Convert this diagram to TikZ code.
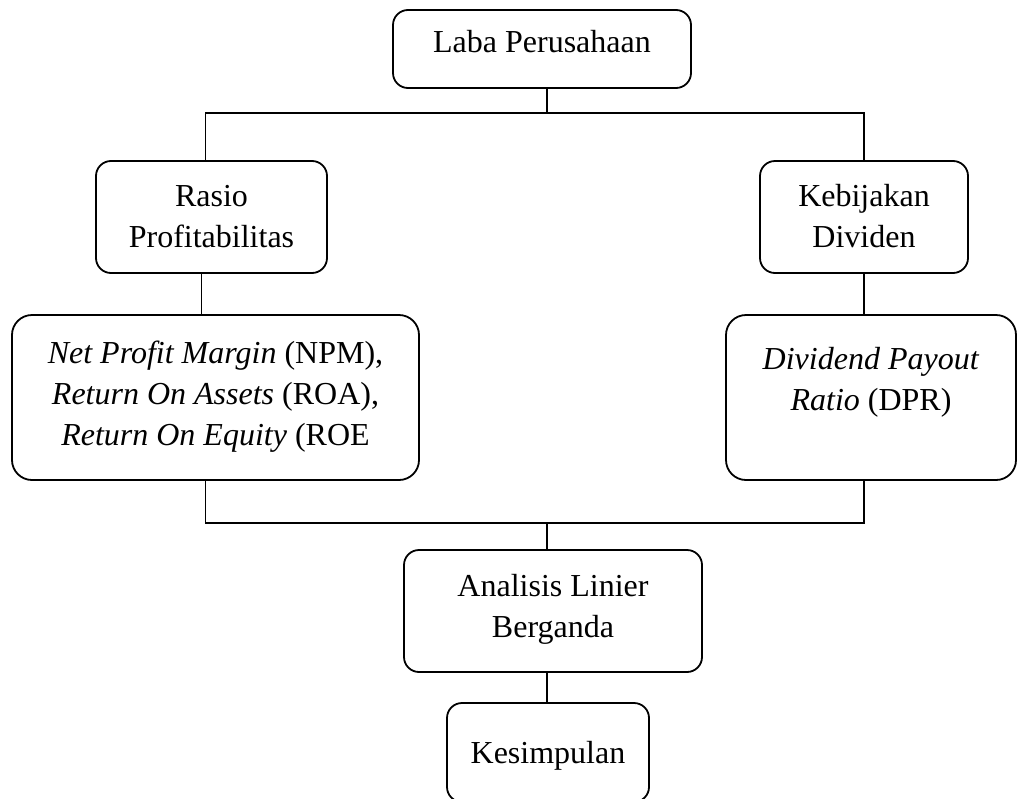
\documentclass[tikz,border=0pt]{standalone}
\usepackage{fontspec}
\setmainfont{Liberation Serif}
\begin{document}
\begin{tikzpicture}[x=1pt,y=-1pt,
  box/.style={draw, line width=1.8pt, rounded corners=15pt, align=center, inner sep=0pt,
    font={\fontsize{32}{41}\selectfont}, text depth=0pt},
  link/.style={line width=1.8pt}]
\useasboundingbox (0,0) rectangle (1017,798);
\clip (0,0) rectangle (1017,798);
\node [box, minimum width=298pt, minimum height=78pt, text height=6pt] (laba) at (542,49) {Laba Perusahaan};
\node [box, minimum width=231pt, minimum height=112pt, text height=60pt] (rasio) at (211.5,217) {Rasio\\Profitabilitas};
\node [box, minimum width=208pt, minimum height=112pt, text height=60pt] (kebijakan) at (864,217) {Kebijakan\\Dividen};
\node [box, rounded corners=20pt, minimum width=407pt, minimum height=165pt, text height=95pt] (npm) at (215.5,397.5) {\textit{Net Profit Margin} (NPM),\\\textit{Return On Assets} (ROA),\\\textit{Return On Equity} (ROE};
\node [box, rounded corners=20pt, minimum width=290pt, minimum height=165pt, text height=25pt] (dpr) at (871,397.5) {\textit{Dividend Payout}\\\textit{Ratio} (DPR)};
\node [box, minimum width=298pt, minimum height=122pt, text height=52pt] (analisis) at (553,611) {Analisis Linier\\Berganda};
\node [box, minimum width=202pt, minimum height=99pt, text height=21pt] (kesimpulan) at (548,752.5) {Kesimpulan};
\coordinate (atas) at (547,113);
\coordinate (bawah) at (547,523);
\draw [link] (laba.south -| atas) -- (atas);
\draw [link] ([xshift=-6pt]rasio.north) |- (atas) -| (kebijakan.north);
\draw [link] ([xshift=-10pt]rasio.south) -- ([xshift=-10pt]rasio.south |- npm.north);
\draw [link] (kebijakan.south) -- (kebijakan.south |- dpr.north);
\draw [link] ([xshift=-6pt]npm.south -| rasio.south) |- (bawah) -| (dpr.south -| kebijakan.south);
\draw [link] (bawah) -- (bawah |- analisis.north);
\draw [link] (kesimpulan.north -| bawah) -- (analisis.south -| bawah);
\end{tikzpicture}
\end{document}
